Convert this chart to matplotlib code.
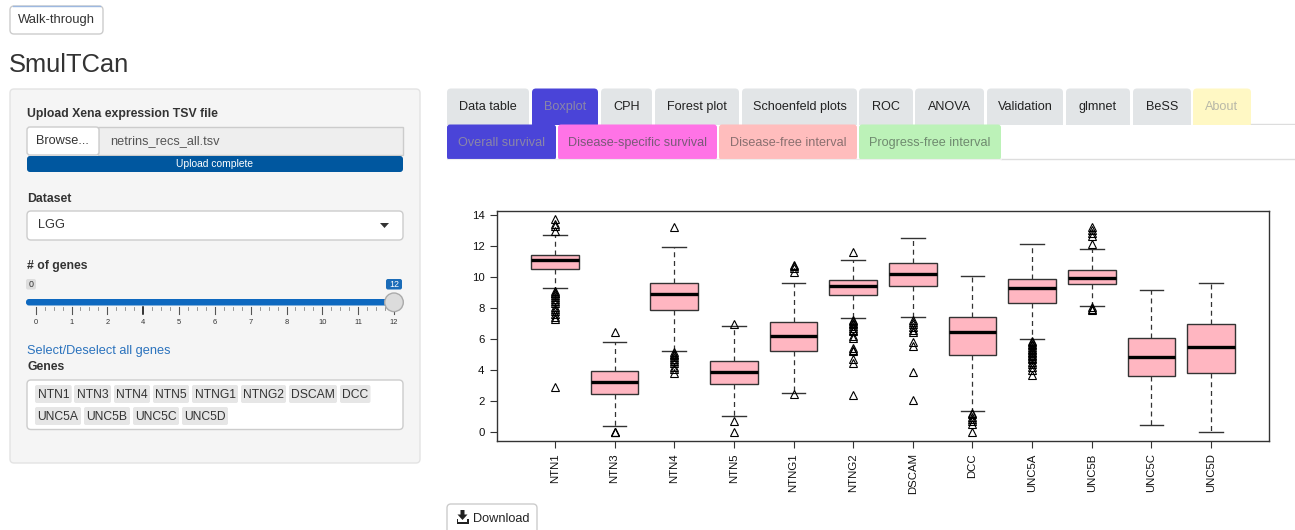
import matplotlib
matplotlib.use("Agg")
import matplotlib.pyplot as plt
from matplotlib.patches import FancyBboxPatch, Rectangle, Circle, Polygon

plt.rcParams['font.family'] = ['Liberation Sans', 'DejaVu Sans']

# ---------------- data ----------------
genes = ["NTN1", "NTN3", "NTN4", "NTN5", "NTNG1", "NTNG2", "DSCAM", "DCC",
         "UNC5A", "UNC5B", "UNC5C", "UNC5D"]
q1 = [10.54, 2.45, 7.88, 3.09, 5.26, 8.82, 9.41, 5.00, 8.31, 9.53, 3.65, 3.80]
medians = [11.08, 3.22, 8.91, 3.87, 6.20, 9.43, 10.18, 6.48, 9.28, 9.96, 4.83, 5.50]
q3 = [11.43, 3.95, 9.62, 4.62, 7.13, 9.83, 10.89, 7.45, 9.90, 10.46, 6.08, 6.98]
whisk_lo = [9.28, 0.39, 5.24, 1.05, 2.51, 7.34, 7.41, 1.35, 5.99, 8.16, 0.47, 0.00]
whisk_hi = [12.71, 5.80, 11.94, 6.85, 9.62, 11.08, 12.54, 10.07, 12.11, 11.83, 9.17, 9.62]
outliers = [
    [13.75, 13.45, 13.3, 12.95, 9.1, 9.0, 8.95, 8.85, 8.75, 8.6, 8.45, 8.3, 8.1,
     7.95, 7.8, 7.6, 7.45, 7.3, 2.95],
    [6.45, 0.05, 0.0, 0.02],
    [13.25, 5.15, 5.05, 4.95, 4.85, 4.75, 4.6, 4.45, 4.2, 4.05, 3.8],
    [6.97, 0.7, 0.03],
    [10.8, 10.7, 10.6, 10.35, 2.45],
    [11.65, 7.25, 7.15, 7.05, 6.95, 6.85, 6.75, 6.6, 6.5, 6.2, 6.05, 5.45, 5.3,
     5.25, 4.7, 4.45, 2.4],
    [7.25, 7.1, 6.95, 6.8, 6.6, 6.45, 5.85, 5.55, 3.9, 2.05],
    [1.25, 1.15, 1.0, 0.85, 0.7, 0.55, 0.05],
    [5.9, 5.8, 5.7, 5.6, 5.5, 5.4, 5.3, 5.2, 5.1, 5.0, 4.9, 4.8, 4.7, 4.55, 4.4,
     4.2, 4.0, 3.7],
    [13.25, 13.05, 12.85, 12.65, 12.15, 8.05, 7.95, 7.85],
    [],
    [],
]
y_ticks = [0, 2, 4, 6, 8, 10, 12, 14]

main_tabs = ["Data table", "Boxplot", "CPH", "Forest plot", "Schoenfeld plots",
             "ROC", "ANOVA", "Validation", "glmnet", "BeSS", "About"]
sub_tabs = ["Overall survival", "Disease-specific survival",
            "Disease-free interval", "Progress-free interval"]
slider_labels = ["0", "1", "2", "4", "5", "6", "7", "8", "10", "11", "12"]

# ---------------- figure ----------------
W, H = 1295, 530
fig = plt.figure(figsize=(W / 100, H / 100), dpi=100)
fig.patch.set_facecolor("white")
ui = fig.add_axes([0, 0, 1, 1])
ui.set_xlim(0, W)
ui.set_ylim(H, 0)
ui.axis("off")

TXT = "#333333"


def rbox(x0, y0, x1, y1, fc, ec="none", r=4, lw=1, z=1):
    p = FancyBboxPatch((x0, y0), x1 - x0, y1 - y0,
                       boxstyle=f"round,pad=0,rounding_size={r}",
                       fc=fc, ec=ec, lw=lw, zorder=z)
    ui.add_patch(p)
    return p


def txt(x, y, s, size=9.4, color=TXT, ha="left", weight="normal", z=5, **kw):
    ui.text(x, y, s, fontsize=size, color=color, ha=ha, va="center",
            fontweight=weight, zorder=z, **kw)


# Walk-through button
rbox(10, 6, 103, 34, "white", "#cccccc", r=4)
ui.plot([13, 100], [6.3, 6.3], color="#9db8e0", lw=1, zorder=3)
txt(56.5, 20.5, "Walk-through", size=9.4, ha="center")

# Title
txt(9, 65.5, "SmulTCan", size=18.4)

# Sidebar
rbox(10, 89, 420, 463, "#f5f5f5", "#e3e3e3", r=4)
txt(27, 114, "Upload Xena expression TSV file", size=8.8, weight="bold")
ui.add_patch(Rectangle((98, 127), 305, 28, fc="#eeeeee", ec="#cccccc", lw=1, zorder=2))
rbox(27, 127, 99, 155, "white", "#cccccc", r=3, z=3)
txt(62.5, 141.5, "Browse...", size=9.2, ha="center")
txt(110, 141.5, "netrins_recs_all.tsv", size=9.2, color="#555555")
rbox(27, 156, 403, 172, "#00579f", r=3, z=3)
txt(215, 164, "Upload complete", size=7.4, color="white", ha="center")

txt(27, 199, "Dataset", size=8.8, weight="bold")
rbox(27, 211, 403, 240, "white", "#cccccc", r=4)
txt(38, 225.5, "LGG", size=9.2)
ui.add_patch(Polygon([[380, 223], [389, 223], [384.5, 228]], closed=True,
                     fc="#333333", ec="none", zorder=5))

txt(27, 265.5, "# of genes", size=8.8, weight="bold")
# slider value boxes
rbox(26, 279, 36, 289.5, "#dddddd", r=2)
txt(31, 284.3, "0", size=6.4, color="#333333", ha="center")
rbox(386, 279, 402, 289.5, "#1b6cb8", r=2)
txt(394, 284.3, "12", size=6.4, color="white", ha="center")
# slider bar
rbox(26, 299, 395, 305.5, "#0d68bf", r=3, z=3)
ui.add_patch(Circle((394, 302.3), 9.3, fc="#dcdcdc", ec="#aaaaaa", lw=1, zorder=4))
# grid ticks
gx0, gstep = 35.7, 35.83
for i, lab in enumerate(slider_labels):
    x = gx0 + i * gstep
    ui.plot([x, x], [307, 313.5], color="#000000" if lab == "4" else "#555555",
            lw=1.1 if lab == "4" else 0.8, zorder=3)
    txt(x, 322.3, lab, size=5.4, color="#333333", ha="center")
    if i < len(slider_labels) - 1:
        for k in range(1, 4):
            xm = x + k * gstep / 4
            ui.plot([xm, xm], [307, 310], color="#888888", lw=0.6, zorder=3)

txt(27, 351, "Select/Deselect all genes", size=9.2, color="#2a72bd")
txt(27, 367, "Genes", size=8.8, weight="bold")
rbox(27, 380, 403, 429.5, "white", "#cccccc", r=4)
tag_rows = [(385, 403, [(35, 71.7), (74, 111), (114, 150), (153, 189), (192, 238),
                        (241, 286), (289, 337), (340, 370.5)]),
            (407, 425, [(35, 81), (84, 130), (133, 179), (182, 228)])]
gi = 0
for (ya, yb, spans) in tag_rows:
    for (xa, xb) in spans:
        rbox(xa, ya, xb, yb, "#e6e6e6", r=2, z=3)
        txt((xa + xb) / 2, (ya + yb) / 2 + 0.5, genes[gi], size=8.7, ha="center")
        gi += 1

# Tabs, row 1
tab_spans = [(447, 529), (532, 598), (601, 652), (655, 739), (742, 857), (859, 913),
             (915, 984), (987, 1063), (1066, 1130), (1133, 1191), (1193, 1251)]
tab_colors = ["#e2e5e7", "#4a44d8", "#e2e5e7", "#e2e5e7", "#e2e5e7", "#e2e5e7",
              "#e2e5e7", "#e2e5e7", "#e2e5e7", "#e2e5e7", "#fff8c4"]
tab_tcol = ["#222222", "#8a86a8", "#222222", "#222222", "#222222", "#222222",
            "#222222", "#222222", "#222222", "#222222", "#b8b8a8"]
for (xa, xb), lab, fc, tc in zip(tab_spans, main_tabs, tab_colors, tab_tcol):
    rbox(xa, 88.5, xb, 128, fc, r=4, z=2)
    txt((xa + xb) / 2, 107, lab, size=9.1, color=tc, ha="center")
ui.plot([1251, 1295], [124.3, 124.3], color="#dddddd", lw=1, zorder=2)

# Tabs, row 2
sub_spans = [(447, 556), (558, 717), (719, 857), (859, 1001)]
sub_colors = ["#4a44d8", "#ff73e6", "#ffbdbd", "#bcf2b8"]
sub_tcol = ["#8a86a8", "#7a5a78", "#8a7070", "#6f8a6f"]
ui.add_patch(Rectangle((447, 124.5), 849, 34, fc="white", ec="none", zorder=2.5))
for (xa, xb), lab, fc, tc in zip(sub_spans, sub_tabs, sub_colors, sub_tcol):
    rbox(xa, 124.5, xb, 160, fc, r=3, z=3)
    txt((xa + xb) / 2, 142.6, lab, size=9.1, color=tc, ha="center")
ui.add_patch(Rectangle((440, 159), 860, 10, fc="white", ec="none", zorder=3.5))
ui.plot([1001, 1295], [159.3, 159.3], color="#dddddd", lw=1, zorder=4)
ui.plot([447, 1001], [159.3, 159.3], color="#eeeeee", lw=0.8, zorder=4)

# Download button
rbox(447, 504, 537, 540, "white", "#cccccc", r=4)
ui.add_patch(Polygon([[460.5, 510], [464.5, 510], [464.5, 514.5], [467.5, 514.5],
                      [462.5, 520], [457.5, 514.5], [460.5, 514.5]], closed=True,
                     fc="#222222", ec="none", zorder=5))
ui.add_patch(Polygon([[456.5, 518.5], [458, 518.5], [458, 521.5], [467, 521.5],
                      [467, 518.5], [468.5, 518.5], [468.5, 524], [456.5, 524]],
                     closed=True, fc="#222222", ec="none", zorder=5))
txt(473, 518.7, "Download", size=9.2, color="#222222")

# ---------------- boxplot ----------------
ax = fig.add_axes([497 / W, (H - 441) / H, (1269 - 497) / W, (441 - 211) / H])
ax.set_facecolor("white")
stats = []
for i, g in enumerate(genes):
    stats.append(dict(label=g, med=medians[i], q1=q1[i], q3=q3[i],
                      whislo=whisk_lo[i], whishi=whisk_hi[i], fliers=outliers[i]))
positions = list(range(1, len(genes) + 1))
ax.bxp(stats, positions=positions, widths=0.8, capwidths=0.4, patch_artist=True,
       boxprops=dict(facecolor="#ffb6c1", edgecolor="#333333", linewidth=1.0),
       medianprops=dict(color="black", linewidth=2.4, solid_capstyle="butt"),
       whiskerprops=dict(color="#333333", linewidth=0.9, linestyle=(0, (4, 3))),
       capprops=dict(color="#333333", linewidth=1.0),
       flierprops=dict(marker="^", markerfacecolor="none", markeredgecolor="black",
                       markersize=6.2, markeredgewidth=0.8, linestyle="none"))
ax.set_xlim(0.03, 12.97)
ax.set_ylim(-0.56, 14.26)
ax.set_yticks(y_ticks)
ax.set_yticklabels([str(v) for v in y_ticks])
ax.set_xticks(positions)
ax.set_xticklabels(genes, rotation=90)
ax.tick_params(axis="both", labelsize=8.2, length=5, width=0.8, color="#333333",
               pad=4, labelcolor="#111111")
for s in ax.spines.values():
    s.set_color("#333333")
    s.set_linewidth(1.0)

fig.savefig("out.png", dpi=100, facecolor="white")
